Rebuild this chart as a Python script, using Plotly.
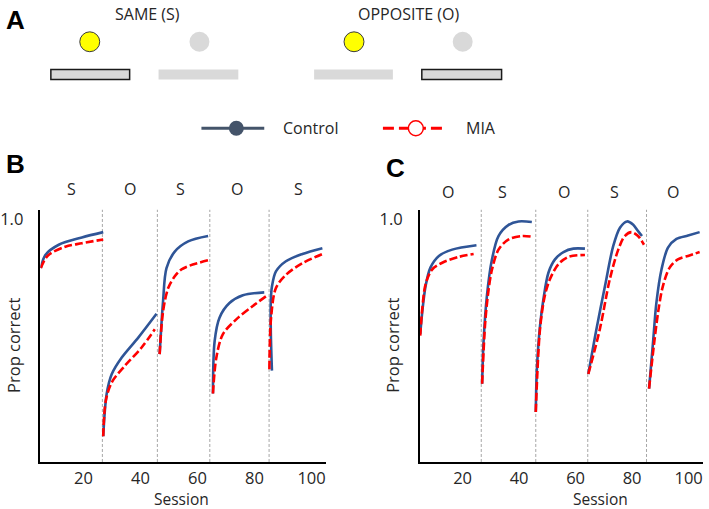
import plotly.graph_objects as go

W, H = 709, 509

# ---------------- data ----------------
DIVIDERS = [26.6, 45.9, 64.3, 85.1]
B_PHASES = ["S", "O", "S", "O", "S"]
C_PHASES = ["O", "S", "O", "S", "O"]
X_TICKS = [20, 40, 60, 80, 100]

# Panel B, control (one list per phase)
B_CTRL_X = [
    [5.0, 6.6, 11.3, 19.4, 26.9],
    [26.9, 28.1, 29.9, 33.4, 39.2, 45.6],
    [46.7, 47.9, 49.1, 52.0, 56.7, 63.7],
    [65.4, 66.0, 67.7, 71.2, 75.9, 83.4],
    [86.1, 85.7, 85.7, 86.1, 87.5, 91.0, 96.8, 103.8],
]
B_CTRL_Y = [
    [0.899, 0.926, 0.947, 0.962, 0.973],
    [0.553, 0.640, 0.681, 0.715, 0.756, 0.805],
    [0.722, 0.831, 0.899, 0.933, 0.954, 0.965],
    [0.641, 0.749, 0.797, 0.827, 0.843, 0.849],
    [0.688, 0.769, 0.831, 0.861, 0.892, 0.913, 0.928, 0.940],
]
# Panel B, MIA
B_MIA_X = [
    [5.0, 7.5, 13.6, 19.4, 26.9],
    [26.9, 27.8, 29.9, 34.5, 40.3, 45.0],
    [46.7, 47.9, 49.7, 52.0, 54.3, 57.2, 63.7],
    [65.4, 66.6, 68.9, 73.5, 79.4, 84.0],
    [85.2, 85.8, 87.5, 91.0, 96.8, 103.8],
]
B_MIA_Y = [
    [0.899, 0.925, 0.943, 0.950, 0.958],
    [0.553, 0.626, 0.664, 0.698, 0.735, 0.773],
    [0.722, 0.810, 0.858, 0.882, 0.896, 0.904, 0.915],
    [0.641, 0.715, 0.763, 0.793, 0.821, 0.841],
    [0.691, 0.797, 0.858, 0.885, 0.909, 0.928],
]
# Panel C, control
C_CTRL_X = [
    [5.0, 5.7, 6.9, 8.6, 11.6, 16.3, 24.9],
    [26.9, 27.4, 28.6, 30.4, 32.7, 36.3, 39.8, 44.5],
    [45.9, 46.3, 47.4, 48.6, 50.4, 52.7, 55.7, 59.2, 63.3],
    [64.5, 67.4, 70.4, 73.3, 75.7, 78.2, 80.4, 82.1, 83.5],
    [86.0, 87.4, 88.6, 90.4, 92.7, 95.7, 99.8, 103.9],
]
C_CTRL_Y = [
    [0.763, 0.808, 0.862, 0.900, 0.924, 0.937, 0.946],
    [0.661, 0.746, 0.842, 0.917, 0.965, 0.988, 0.995, 0.994],
    [0.603, 0.692, 0.780, 0.835, 0.890, 0.917, 0.932, 0.939, 0.939],
    [0.681, 0.774, 0.862, 0.944, 0.982, 0.995, 0.988, 0.975, 0.965],
    [0.651, 0.746, 0.828, 0.896, 0.941, 0.959, 0.966, 0.973],
]
# Panel C, MIA
C_MIA_X = [
    [5.0, 5.7, 6.9, 9.2, 12.8, 18.6, 23.9],
    [26.9, 28.0, 29.2, 30.4, 32.7, 36.3, 41.0, 45.1],
    [45.9, 47.4, 49.1, 50.9, 53.9, 57.4, 63.3],
    [64.5, 68.6, 72.1, 75.1, 77.4, 79.8, 82.1, 84.2],
    [86.0, 87.7, 89.2, 90.9, 93.3, 96.2, 100.3, 103.9],
]
C_MIA_Y = [
    [0.760, 0.814, 0.866, 0.896, 0.910, 0.922, 0.928],
    [0.661, 0.787, 0.855, 0.896, 0.937, 0.958, 0.965, 0.963],
    [0.603, 0.774, 0.842, 0.876, 0.907, 0.922, 0.926],
    [0.681, 0.774, 0.876, 0.937, 0.965, 0.973, 0.965, 0.947],
    [0.651, 0.740, 0.808, 0.862, 0.900, 0.917, 0.925, 0.932],
]

# ---------------- styling ----------------
CTRL = "#2F5597"
CTRL_LEG = "#44546A"
MIA = "#FF0000"
TXT = "#262626"
FONT = "Open Sans"


def px(x):
    return x / W


def py(y):
    return 1 - y / H


fig = go.Figure()

panels = [
    ("x", "y", B_CTRL_X, B_CTRL_Y, B_MIA_X, B_MIA_Y),
    ("x2", "y2", C_CTRL_X, C_CTRL_Y, C_MIA_X, C_MIA_Y),
]
for xa, ya, cx, cy, mx, my in panels:
    for sx, sy in zip(cx, cy):
        fig.add_trace(go.Scatter(x=sx, y=sy, xaxis=xa, yaxis=ya, mode="lines",
                                 line=dict(color=CTRL, width=2.6, shape="spline", smoothing=0.9),
                                 showlegend=False, hoverinfo="skip"))
    for sx, sy in zip(mx, my):
        fig.add_trace(go.Scatter(x=sx, y=sy, xaxis=xa, yaxis=ya, mode="lines",
                                 line=dict(color=MIA, width=2.6, dash="8px,3px",
                                           shape="spline", smoothing=0.9),
                                 showlegend=False, hoverinfo="skip"))

XR = [4.85, 105.1]
YR = [0.5, 1.019]
YDOM = [py(461.7), py(208)]
axis_common = dict(showline=True, linecolor="black", linewidth=1.5, showgrid=False,
                   zeroline=False, ticks="", fixedrange=True)
fig.update_layout(
    width=W, height=H, margin=dict(l=0, r=0, t=0, b=0),
    paper_bgcolor="white", plot_bgcolor="white",
    font=dict(family=FONT, color=TXT, size=16),
    showlegend=False,
    xaxis=dict(domain=[px(38.5), px(325)], range=XR, tickvals=X_TICKS,
               tickfont=dict(size=16.5), anchor="y", ticklabelstandoff=0, **axis_common),
    yaxis=dict(domain=YDOM, range=YR, tickvals=[1.0], ticktext=["1.0"],
               tickfont=dict(size=16.5), anchor="x", ticklabelstandoff=12, **axis_common),
    xaxis2=dict(domain=[px(419), px(703)], range=XR, tickvals=X_TICKS,
                tickfont=dict(size=16.5), anchor="y2", ticklabelstandoff=0, **axis_common),
    yaxis2=dict(domain=YDOM, range=YR, tickvals=[1.0], ticktext=["1.0"],
                tickfont=dict(size=16.5), anchor="x2", ticklabelstandoff=12, **axis_common),
)

shapes = []
# phase dividers
for xa in ["x", "x2"]:
    for d in DIVIDERS:
        shapes.append(dict(type="line", xref=xa, yref=("y" if xa == "x" else "y2") + " domain",
                           x0=d, x1=d, y0=0, y1=1, layer="below",
                           line=dict(color="#A6A6A6", width=1, dash="3px,2px")))


def circle(cx, cy, r, fill, line_color=None, lw=1):
    return dict(type="circle", xref="paper", yref="paper",
                x0=px(cx - r), x1=px(cx + r), y0=py(cy + r), y1=py(cy - r),
                fillcolor=fill,
                line=dict(color=line_color or fill, width=lw if line_color else 0))


def rect(x0, x1, y0, y1, outlined):
    return dict(type="rect", xref="paper", yref="paper",
                x0=px(x0), x1=px(x1), y0=py(y1), y1=py(y0), fillcolor="#D9D9D9",
                line=dict(color="#1a1a1a" if outlined else "#D9D9D9", width=1.5 if outlined else 0))


# panel A schematic
shapes += [
    circle(88, 39, 10, "#FFFF00", "#3a3a3a", 1),
    circle(198, 39, 10, "#D9D9D9"),
    circle(353, 39, 10, "#FFFF00", "#3a3a3a", 1),
    circle(462, 39, 10, "#D9D9D9"),
    rect(49, 128, 67, 77, True),
    rect(157, 237, 67, 77, False),
    rect(313, 392, 67, 77, False),
    rect(421, 501, 67, 77, True),
]
# legend
shapes += [
    dict(type="line", xref="paper", yref="paper", x0=px(200), x1=px(263), y0=py(126), y1=py(126),
         line=dict(color=CTRL_LEG, width=3)),
    circle(235, 126, 7.5, CTRL_LEG),
    dict(type="line", xref="paper", yref="paper", x0=px(382), x1=px(445), y0=py(126), y1=py(126),
         line=dict(color=MIA, width=3, dash="11px,5px")),
    circle(415, 126, 7.5, "white", MIA, 1.5),
]
fig.update_layout(shapes=shapes)

ann = []


def text(x, y, s, size=16, bold=False, xanchor="center", angle=0, family=FONT, color=TXT):
    ann.append(dict(x=px(x), y=py(y), xref="paper", yref="paper", text=f"<b>{s}</b>" if bold else s,
                    showarrow=False, xanchor=xanchor, yanchor="middle", textangle=angle,
                    font=dict(size=size, family=family, color=color)))


text(2, 17, "A", size=26, bold=True, xanchor="left", family="Liberation Sans", color="black")
text(2, 162, "B", size=26, bold=True, xanchor="left", family="Liberation Sans", color="black")
text(383, 166, "C", size=26, bold=True, xanchor="left", family="Liberation Sans", color="black")
text(146, 11, "SAME (S)", size=16)
text(408, 11, "OPPOSITE (O)", size=16)
text(280, 126, "Control", size=16, xanchor="left")
text(463, 126, "MIA", size=16, xanchor="left")

B_LAB_X = [70, 128, 179, 236, 297]
C_LAB_X = [447, 502, 564, 614, 673]
for s, x in zip(B_PHASES, B_LAB_X):
    text(x, 187, s, size=16)
for s, x in zip(C_PHASES, C_LAB_X):
    text(x, 190, s, size=16)

text(12, 344, "Prop correct", size=16.5, angle=-90)
text(392, 344, "Prop correct", size=16.5, angle=-90)
text(180, 499, "Session", size=15.5)
text(600, 499, "Session", size=15.5)
fig.update_layout(annotations=ann)

fig.write_html("out.html", config={"displayModeBar": False},
               post_script="document.body.style.margin='0px';")
